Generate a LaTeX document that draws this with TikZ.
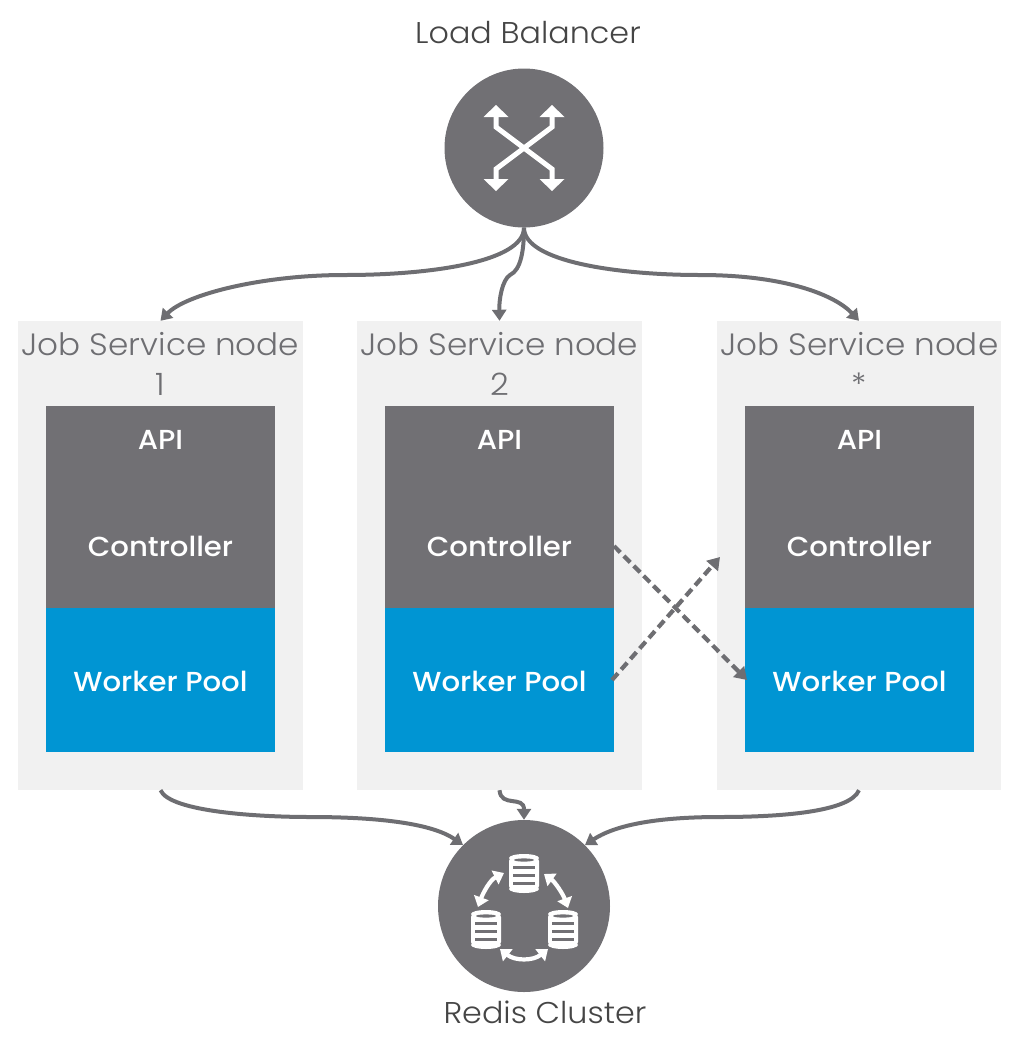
\documentclass[tikz,border=0pt]{standalone}
\usepackage{fontspec}
\setmainfont{Poppins}
\newfontfamily\lightf[FakeStretch=1.06]{Poppins Light}
\newfontfamily\whitef[FakeStretch=1.06]{Poppins Medium}
\usetikzlibrary{arrows.meta}
\definecolor{gr}{HTML}{717074}
\definecolor{ln}{HTML}{6E6E72}
\definecolor{bl}{HTML}{0095D3}
\definecolor{pn}{HTML}{F1F1F1}
\definecolor{tt}{HTML}{454545}
\tikzset{
 x=1pt,y=-1pt,
 panel/.style={fill=pn,inner sep=0,minimum width=#1,minimum height=469pt},
 panel/.default=285pt,
 graybox/.style={fill=gr,inner sep=0,minimum width=229pt,minimum height=202pt},
 bluebox/.style={fill=bl,inner sep=0,minimum width=229pt,minimum height=144pt},
 whitelab/.style={text=white,inner sep=0,font=\whitef\fontsize{27.5}{30}\selectfont},
 panellab/.style={text=ln,inner sep=0,align=center,font=\lightf\fontsize{30.8}{39}\selectfont},
 titlelab/.style={text=tt,inner sep=0,font=\lightf\fontsize{30}{34}\selectfont},
 conn/.style={draw=ln,line width=4pt,-{Triangle[length=11pt,width=14pt]}},
 dconn/.style={draw=ln,line width=4.2pt,dash pattern=on 9pt off 5pt,-{Triangle[length=12pt,width=15pt]}},
 circ/.style={circle,fill=gr,inner sep=0,minimum size=#1},
 wline/.style={draw=white,line width=5pt},
 darrow/.style={draw=white,line width=4.2pt,{Triangle[length=10pt,width=15pt]}-{Triangle[length=10pt,width=15pt]}},
}
\newcommand{\dbicon}[2]{%
 \begin{scope}[shift={(#1,#2)}]
  \fill[white,rounded corners=4pt] (-15,-15) rectangle (15,18);
  \fill[white] (0,-14) ellipse [x radius=15,y radius=4];
  \fill[white] (0,17) ellipse [x radius=15,y radius=4];
  \fill[gr] (0,-12) ellipse [x radius=10,y radius=1.6];
  \draw[gr,line width=2.4pt] (-11,-4.5) -- (11,-4.5) (-11,3.5) -- (11,3.5) (-11,11.5) -- (11,11.5);
 \end{scope}}
\begin{document}
\begin{tikzpicture}
\useasboundingbox (0,0) rectangle (1018,1050);
\node[titlelab] (lbl) at (528,33) {Load Balancer};
\node[circ=159pt] (lb) at (524,148) {};
\foreach \sx/\sy in {-1/-1,1/-1,-1/1,1/1}{
 \draw[wline] (524,148) -- ++(\sx*28,\sy*21) -- ++(0,\sy*12);
 \fill[white] (524+\sx*15.5,148+\sy*31) -- (524+\sx*40.5,148+\sy*31) -- (524+\sx*28,148+\sy*43) -- cycle;
}
\node[panel] (p1) at (160.5,555.5) {};
\node[panel] (p2) at (499.5,555.5) {};
\node[panel=284pt] (p3) at (859,555.5) {};
\foreach \i/\x/\t in {1/160.5/1,2/499.5/2,3/859.5/*}{
 \node[graybox] (g\i) at (\x,507) {};
 \node[bluebox] (b\i) at (\x,680) {};
 \node[panellab,anchor=north] (t\i) at (\x,332.5) {Job Service node\\[1pt]\t};
 \node[whitelab] (a\i) at (\x,440) {API};
 \node[whitelab] (c\i) at (\x,546) {Controller};
 \node[whitelab] (w\i) at (\x,681) {Worker Pool};
}
\node[circ=172pt] (rd) at (524,906) {};
\node[titlelab] (rdl) at (545,1012) {Redis Cluster};
\dbicon{524}{872}
\dbicon{486}{928}
\dbicon{563}{928}
\draw[darrow] (504,873) .. controls (490,880) and (483,893) .. (478,907);
\draw[darrow] (544,874) .. controls (555,882) and (563,894) .. (568,908);
\draw[darrow] (500,949) .. controls (515,961) and (533,961) .. (548,949);
% connectors
\draw[conn] (lb.south) .. controls (524,262) and (430,275) .. (345,275) .. controls (260,275) and (185,295) .. (p1.north);
\draw[conn] (lb.south) .. controls (524,250) and (521,270) .. (510,275) .. controls (502,280) and (499,300) .. (p2.north);
\draw[conn] (lb.south) .. controls (524,262) and (620,275) .. (700,275) .. controls (785,275) and (835,295) .. (p3.north);
\draw[conn] (p1.south) .. controls (170,812) and (260,817) .. (310,817) .. controls (370,817) and (430,822) .. (rd.135);
\draw[conn] (p2.south) .. controls (501,808) and (524,795) .. (rd.north);
\draw[conn] (p3.south) .. controls (850,812) and (780,817) .. (720,817) .. controls (670,817) and (620,822) .. (rd.45);
\coordinate (c2r) at (614,546);
\coordinate (w3l) at (747,680);
\coordinate (w2r) at (612,680);
\coordinate (c3l) at (720,557);
\draw[dconn] (c2r) -- (w3l);
\draw[dconn] (w2r) -- (c3l);
\end{tikzpicture}
\end{document}
